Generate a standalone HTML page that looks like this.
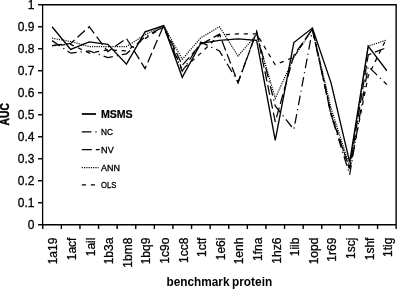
<!DOCTYPE html><html><head><meta charset="utf-8"><style>html,body{margin:0;padding:0;background:#fff;}svg{display:block;filter:grayscale(1);}text{font-family:"Liberation Sans",sans-serif;fill:#000;}.r{stroke:#000;stroke-width:0.3px;}</style></head><body>
<svg width="397" height="289" viewBox="0 0 397 289">
<rect x="0" y="0" width="397" height="289" fill="#fff"/>
<path d="M42.75,4.75 H396.15 V224.75" fill="none" stroke="#000" stroke-width="1.4"/>
<path d="M42.6,4.05 V225.45" fill="none" stroke="#000" stroke-width="1.3"/>
<path d="M42.05,224.75 H396.15" fill="none" stroke="#000" stroke-width="1.5"/>
<path d="M38,224.75 H42.75" stroke="#000" stroke-width="1.4"/>
<text class="r" x="34.45" y="229.05" font-size="12" text-anchor="end">0</text>
<path d="M38,202.75 H42.75" stroke="#000" stroke-width="1.4"/>
<text class="r" x="34.45" y="207.05" font-size="12" text-anchor="end">0.1</text>
<path d="M38,180.75 H42.75" stroke="#000" stroke-width="1.4"/>
<text class="r" x="34.45" y="185.05" font-size="12" text-anchor="end">0.2</text>
<path d="M38,158.75 H42.75" stroke="#000" stroke-width="1.4"/>
<text class="r" x="34.45" y="163.05" font-size="12" text-anchor="end">0.3</text>
<path d="M38,136.75 H42.75" stroke="#000" stroke-width="1.4"/>
<text class="r" x="34.45" y="141.05" font-size="12" text-anchor="end">0.4</text>
<path d="M38,114.75 H42.75" stroke="#000" stroke-width="1.4"/>
<text class="r" x="34.45" y="119.05" font-size="12" text-anchor="end">0.5</text>
<path d="M38,92.75 H42.75" stroke="#000" stroke-width="1.4"/>
<text class="r" x="34.45" y="97.05" font-size="12" text-anchor="end">0.6</text>
<path d="M38,70.75 H42.75" stroke="#000" stroke-width="1.4"/>
<text class="r" x="34.45" y="75.05" font-size="12" text-anchor="end">0.7</text>
<path d="M38,48.75 H42.75" stroke="#000" stroke-width="1.4"/>
<text class="r" x="34.45" y="53.05" font-size="12" text-anchor="end">0.8</text>
<path d="M38,26.75 H42.75" stroke="#000" stroke-width="1.4"/>
<text class="r" x="34.45" y="31.05" font-size="12" text-anchor="end">0.9</text>
<path d="M38,4.75 H42.75" stroke="#000" stroke-width="1.4"/>
<text class="r" x="34.45" y="9.05" font-size="12" text-anchor="end">1</text>
<path d="M42.75,224.75 V229" stroke="#000" stroke-width="1.4"/>
<path d="M61.35,224.75 V229" stroke="#000" stroke-width="1.4"/>
<path d="M79.95,224.75 V229" stroke="#000" stroke-width="1.4"/>
<path d="M98.55,224.75 V229" stroke="#000" stroke-width="1.4"/>
<path d="M117.15,224.75 V229" stroke="#000" stroke-width="1.4"/>
<path d="M135.75,224.75 V229" stroke="#000" stroke-width="1.4"/>
<path d="M154.35,224.75 V229" stroke="#000" stroke-width="1.4"/>
<path d="M172.95,224.75 V229" stroke="#000" stroke-width="1.4"/>
<path d="M191.55,224.75 V229" stroke="#000" stroke-width="1.4"/>
<path d="M210.15,224.75 V229" stroke="#000" stroke-width="1.4"/>
<path d="M228.75,224.75 V229" stroke="#000" stroke-width="1.4"/>
<path d="M247.35,224.75 V229" stroke="#000" stroke-width="1.4"/>
<path d="M265.95,224.75 V229" stroke="#000" stroke-width="1.4"/>
<path d="M284.55,224.75 V229" stroke="#000" stroke-width="1.4"/>
<path d="M303.15,224.75 V229" stroke="#000" stroke-width="1.4"/>
<path d="M321.75,224.75 V229" stroke="#000" stroke-width="1.4"/>
<path d="M340.35,224.75 V229" stroke="#000" stroke-width="1.4"/>
<path d="M358.95,224.75 V229" stroke="#000" stroke-width="1.4"/>
<path d="M377.55,224.75 V229" stroke="#000" stroke-width="1.4"/>
<path d="M396.15,224.75 V229" stroke="#000" stroke-width="1.4"/>
<text class="r" transform="translate(57.30,237.6) rotate(-90)" font-size="12" text-anchor="end">1a19</text>
<text class="r" transform="translate(75.90,237.6) rotate(-90)" font-size="12" text-anchor="end">1acf</text>
<text class="r" transform="translate(94.50,237.6) rotate(-90)" font-size="12" text-anchor="end">1ail</text>
<text class="r" transform="translate(113.10,237.6) rotate(-90)" font-size="12" text-anchor="end">1b3a</text>
<text class="r" transform="translate(131.70,237.6) rotate(-90)" font-size="12" text-anchor="end">1bm8</text>
<text class="r" transform="translate(150.30,237.6) rotate(-90)" font-size="12" text-anchor="end">1bq9</text>
<text class="r" transform="translate(168.90,237.6) rotate(-90)" font-size="12" text-anchor="end">1c9o</text>
<text class="r" transform="translate(187.50,237.6) rotate(-90)" font-size="12" text-anchor="end">1cc8</text>
<text class="r" transform="translate(206.10,237.6) rotate(-90)" font-size="12" text-anchor="end">1ctf</text>
<text class="r" transform="translate(224.70,237.6) rotate(-90)" font-size="12" text-anchor="end">1e6i</text>
<text class="r" transform="translate(243.30,237.6) rotate(-90)" font-size="12" text-anchor="end">1enh</text>
<text class="r" transform="translate(261.90,237.6) rotate(-90)" font-size="12" text-anchor="end">1fna</text>
<text class="r" transform="translate(280.50,237.6) rotate(-90)" font-size="12" text-anchor="end">1hz6</text>
<text class="r" transform="translate(299.10,237.6) rotate(-90)" font-size="12" text-anchor="end">1iib</text>
<text class="r" transform="translate(317.70,237.6) rotate(-90)" font-size="12" text-anchor="end">1opd</text>
<text class="r" transform="translate(336.30,237.6) rotate(-90)" font-size="12" text-anchor="end">1r69</text>
<text class="r" transform="translate(354.90,237.6) rotate(-90)" font-size="12" text-anchor="end">1scj</text>
<text class="r" transform="translate(373.50,237.6) rotate(-90)" font-size="12" text-anchor="end">1shf</text>
<text class="r" transform="translate(392.10,237.6) rotate(-90)" font-size="12" text-anchor="end">1tig</text>
<text transform="translate(8.8,114.3) rotate(-90)" font-size="12" font-weight="bold" stroke="#000" stroke-width="0.45" text-anchor="middle" textLength="22.2" lengthAdjust="spacingAndGlyphs">AUC</text>
<text x="166.6" y="286.1" font-size="12" font-weight="bold" textLength="62.9" lengthAdjust="spacingAndGlyphs">benchmark</text>
<text x="232.0" y="286.1" font-size="12" font-weight="bold" textLength="40.2" lengthAdjust="spacingAndGlyphs">protein</text>
<polyline points="52.05,45.67 70.65,44.35 89.25,53.15 107.85,49.85 126.45,50.95 145.05,38.63 163.65,26.75 182.25,69.65 200.85,53.15 219.45,35.11 238.05,33.79 256.65,33.79 275.25,64.81 293.85,57.11 312.45,28.95 331.05,112.55 349.65,169.75 368.25,75.81 386.85,37.75" fill="none" stroke="#000" stroke-width="1.25" stroke-dasharray="4.2 4.8" stroke-linejoin="miter"/>
<polyline points="52.05,38.19 70.65,41.49 89.25,46.55 107.85,46.55 126.45,46.55 145.05,34.67 163.65,25.43 182.25,59.31 200.85,37.75 219.45,26.75 238.05,56.01 256.65,34.45 275.25,98.25 293.85,57.55 312.45,28.95 331.05,108.15 349.65,166.45 368.25,46.11 386.85,39.95" fill="none" stroke="#000" stroke-width="1.2" stroke-dasharray="1.15 1.12" stroke-linejoin="miter"/>
<polyline points="52.05,45.67 70.65,43.47 89.25,26.75 107.85,51.61 126.45,38.41 145.05,68.55 163.65,25.65 182.25,65.25 200.85,44.35 219.45,34.23 238.05,82.85 256.65,31.59 275.25,121.79 293.85,55.35 312.45,28.95 331.05,114.75 349.65,168.65 368.25,54.91 386.85,47.43" fill="none" stroke="#000" stroke-width="1.25" stroke-dasharray="10 4" stroke-linejoin="miter"/>
<polyline points="52.05,40.61 70.65,53.15 89.25,50.95 107.85,57.55 126.45,53.81 145.05,36.87 163.65,26.75 182.25,71.19 200.85,42.15 219.45,50.95 238.05,82.19 256.65,31.59 275.25,105.95 293.85,129.49 312.45,30.05 331.05,114.75 349.65,174.59 368.25,66.35 386.85,84.61" fill="none" stroke="#000" stroke-width="1.25" stroke-dasharray="9.6 4 1.2 4" stroke-linejoin="miter"/>
<polyline points="52.05,26.75 70.65,49.41 89.25,41.93 107.85,44.35 126.45,64.15 145.05,31.81 163.65,25.65 182.25,77.35 200.85,43.25 219.45,40.39 238.05,38.85 256.65,40.39 275.25,140.49 293.85,42.59 312.45,28.07 331.05,82.85 349.65,162.05 368.25,46.11 386.85,70.75" fill="none" stroke="#000" stroke-width="1.35" stroke-linejoin="miter"/>
<path d="M81.8,114.0 H96.0" stroke="#000" stroke-width="1.75"/>
<text x="100.9" y="117.90" font-size="11" font-weight="bold" stroke="#000" stroke-width="0.2" textLength="31.8" lengthAdjust="spacingAndGlyphs">MSMS</text>
<path d="M81.8,131.8 H99.7" stroke="#000" stroke-width="1.25" stroke-dasharray="9.6 4 1.2 4"/>
<text class="r" x="101.1" y="135.05" font-size="9" textLength="11.9" lengthAdjust="spacingAndGlyphs">NC</text>
<path d="M81.8,149.6 H99.7" stroke="#000" stroke-width="1.25" stroke-dasharray="10 4"/>
<text class="r" x="101.1" y="152.85" font-size="9" textLength="12.6" lengthAdjust="spacingAndGlyphs">NV</text>
<path d="M81.8,167.7 H98.6" stroke="#000" stroke-width="1.2" stroke-dasharray="1.15 1.12"/>
<text class="r" x="101.1" y="170.95" font-size="9" textLength="18.9" lengthAdjust="spacingAndGlyphs">ANN</text>
<path d="M81.8,184.9 H99.7" stroke="#000" stroke-width="1.25" stroke-dasharray="4.2 4.8"/>
<text class="r" x="101.1" y="188.15" font-size="9" textLength="15.4" lengthAdjust="spacingAndGlyphs">OLS</text>
</svg></body></html>
